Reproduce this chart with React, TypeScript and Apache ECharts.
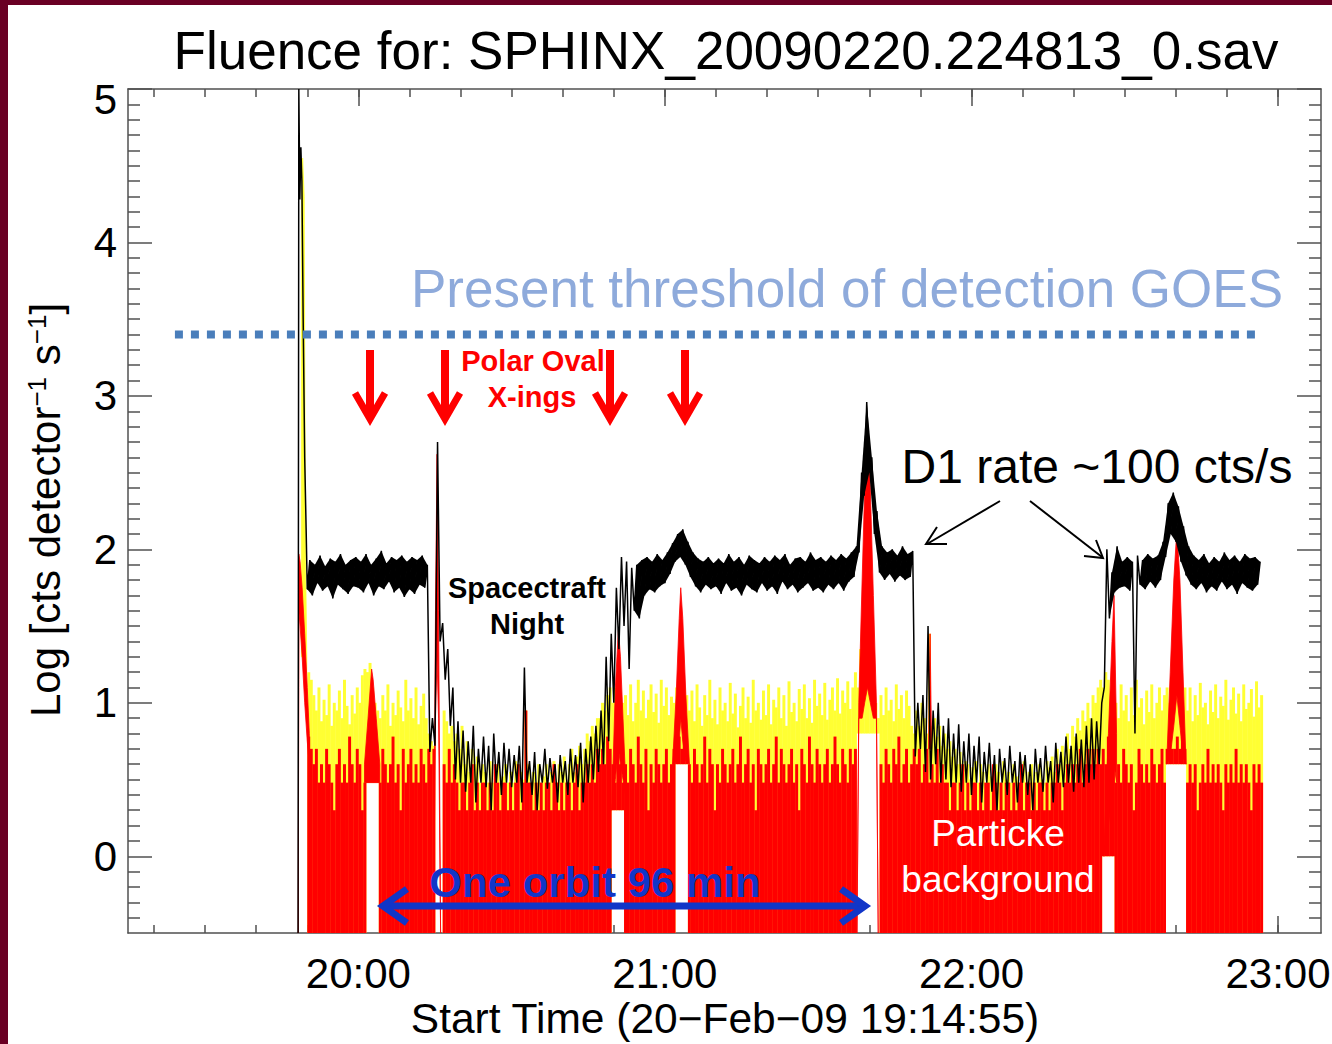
import React, { useEffect, useRef } from 'react';
import * as echarts from 'echarts';

const FONT = '"Liberation Sans", Arial, Helvetica, sans-serif';

// time axis: minutes after 19:00:00 ; start time 19:14:55
const T_START = 14.917;
const T_END = 248.41;
const Y_MIN = -0.5;
const Y_MAX = 5;

const hourTicks = [60, 120, 180, 240];
const hourLabels = ['20:00', '21:00', '22:00', '23:00'];
const tenMinuteTicks = [20, 30, 40, 50, 60, 70, 80, 90, 100, 110, 120, 130, 140, 150, 160, 170, 180, 190, 200, 210, 220, 230, 240];
const yLabels = [0, 1, 2, 3, 4, 5];

// ---- black curve (D1 rate), one low/high pair per minute starting at t = 50 ----
const BLACK_T0 = 50;
const blkSpikeT = [48.2, 48.35, 48.55, 48.75, 48.95, 49.2, 49.5, 49.8];
const blkSpikeV = [-0.5, 5.0, 4.28, 4.62, 4.4, 3.5, 2.6, 2.1];
const blkLo = [
  1.74, 1.70, 1.78, 1.73, 1.76, 1.68, 1.77, 1.74, 1.71, 1.76,
  1.75, 1.72, 1.78, 1.70, 1.76, 1.74, 1.79, 1.72, 1.75, 1.69,
  1.74, 1.71, 1.77, 1.75, 0.68, 0.72, 1.40, 1.15, 0.85, 0.50,
  0.48, 0.42, 0.48, 0.35, 0.48, 0.45, 0.30, 0.48, 0.40, 0.48,
  0.45, 0.48, 0.35, 0.48, 0.40, 0.30, 0.48, 0.44, 0.48, 0.35,
  0.48, 0.40, 0.48, 0.45, 0.35, 0.48, 0.50, 0.55, 0.60, 0.75,
  1.00, 1.35, 1.50, 1.22, 1.60, 1.55, 1.70, 1.74, 1.72, 1.76,
  1.78, 1.84, 1.92, 1.95, 1.90, 1.82, 1.76, 1.72, 1.77, 1.74,
  1.76, 1.71, 1.78, 1.73, 1.75, 1.70, 1.77, 1.74, 1.72, 1.78,
  1.73, 1.76, 1.71, 1.79, 1.74, 1.77, 1.72, 1.75, 1.78, 1.73,
  1.75, 1.72, 1.77, 1.74, 1.78, 1.73, 1.79, 1.82, 1.98, 2.35,
  2.50, 2.10, 1.85, 1.80, 1.84, 1.79, 1.83, 1.80, 1.82, 0.65,
  0.70, 0.55, 0.50, 0.60, 0.48, 0.50, 0.45, 0.48, 0.42, 0.48,
  0.40, 0.48, 0.35, 0.48, 0.42, 0.30, 0.48, 0.40, 0.48, 0.35,
  0.48, 0.40, 0.30, 0.48, 0.42, 0.48, 0.35, 0.48, 0.45, 0.48,
  0.42, 0.48, 0.45, 0.48, 0.50, 0.60, 1.10, 1.55, 1.72, 1.75,
  1.76, 1.73, 0.80, 1.77, 1.74, 1.79, 1.75, 1.80, 1.95, 2.10,
  2.05, 1.92, 1.83, 1.77, 1.74, 1.78, 1.72, 1.76, 1.73, 1.79,
  1.74, 1.77, 1.71, 1.78, 1.75, 1.73, 1.77,
];
const blkHi = [
  1.93, 1.90, 1.96, 1.89, 1.94, 1.92, 1.97, 1.90, 1.93, 1.95,
  1.92, 1.97, 1.90, 1.94, 1.99, 1.91, 1.95, 1.93, 1.96, 1.92,
  1.95, 1.93, 1.96, 1.90, 0.90, 2.70, 1.52, 1.35, 1.10, 0.88,
  0.82, 0.75, 0.85, 0.70, 0.78, 0.72, 0.80, 0.68, 0.74, 0.70,
  0.66, 0.72, 1.23, 0.62, 0.68, 0.60, 0.70, 0.64, 0.60, 0.66,
  0.62, 0.70, 0.66, 0.74, 0.70, 0.78, 0.85, 0.95, 1.30, 1.45,
  1.75, 1.95, 1.92, 1.88, 1.90, 1.93, 1.95, 1.92, 1.97, 1.93,
  1.98, 2.04, 2.10, 2.13, 2.05, 1.98, 1.94, 1.92, 1.95, 1.91,
  1.94, 1.91, 1.97, 1.92, 1.95, 1.90, 1.96, 1.93, 1.91, 1.95,
  1.92, 1.96, 1.93, 1.97, 1.90, 1.94, 1.95, 1.92, 1.98, 1.93,
  1.95, 1.92, 1.96, 1.93, 1.97, 1.94, 1.98, 2.02, 2.50, 2.96,
  2.60, 2.25, 2.02, 1.98, 2.00, 1.96, 2.02, 1.97, 1.99, 1.00,
  1.05, 1.50, 0.95, 1.00, 0.85, 0.90, 0.80, 0.86, 0.75, 0.80,
  0.72, 0.78, 0.68, 0.74, 0.66, 0.70, 0.64, 0.72, 0.62, 0.68,
  0.66, 0.60, 0.70, 0.64, 0.72, 0.62, 0.74, 0.68, 0.78, 0.72,
  0.80, 0.76, 0.85, 0.90, 0.88, 1.00, 2.00, 1.85, 2.02, 1.92,
  1.95, 1.92, 1.96, 1.93, 1.97, 1.94, 1.96, 2.05, 2.30, 2.37,
  2.28, 2.15, 2.02, 1.96, 1.93, 1.97, 1.91, 1.95, 1.92, 1.98,
  1.93, 1.96, 1.92, 1.97, 1.94, 1.95, 1.92,
];

// ---- red and yellow channels, one top value per half minute from t = 50 ----
const BIN_T0 = 50;
const BIN_W = 0.5;
const redTop = [
  0.78, 0.7, 0.6, 0.7, 0.48, 0.6, 0.48, 0.7, 0.6, 0.48, 0.3, 0.6, 0.7, 0.48, 0.6, 0.48, 0.78, 0.6, 0.48, 0.7, 0.6, 0.3, 0.48,
  0.6, 0.7, 0.6, 0.7, 0.6,
  0.48, 0.7, 0.6, 0.48, 0.6, 0.78, 0.48, 0.6, 0.3, 0.7, 0.48, 0.6, 0.7, 0.48, 0.6, 0.48, 0.7, 0.6, 0.48, 0.7, 0.6, 0.7,
  0.6, 0.6, 0.6,
  0.6, 0.48, 0.7, 0.48, 0.6,
  0.48, 0.3, 0.48, 0.48, 0.3, 0.48, 0.6, 0.3, 0.48, 0.3,
  0.48, 0.48, 0.3, 0.48, 0.3, 0.6, 0.48, 0.3, 0.48, 0.48,
  0.3, 0.48, 0.3, 0.48, 0.6, 0.3, 0.48, 0.95, 0.48, 0.48,
  0.3, 0.48, 0.3, 0.48, 0.3, 0.48, 0.48, 0.3, 0.6, 0.48,
  0.3, 0.48, 0.3, 0.48, 0.48, 0.3, 0.48, 0.6, 0.3, 0.48,
  0.48, 0.6, 0.48, 0.6, 0.48, 0.7,
  0.6, 0.7, 0.6, 0.78, 0.7,
  0.6, 0.48, 0.7, 0.6, 0.48,
  0.6, 0.48, 0.7, 0.6, 0.48, 0.78, 0.6, 0.48, 0.7, 0.3, 0.6, 0.48, 0.7, 0.6, 0.48, 0.6, 0.7, 0.48, 0.6, 0.7,
  0.7, 0.78, 0.7, 0.78, 0.7,
  0.6, 0.48, 0.7, 0.6, 0.48, 0.6, 0.78, 0.48, 0.7, 0.6,
  0.3, 0.6, 0.48, 0.7, 0.6, 0.48, 0.6, 0.7, 0.48, 0.6,
  0.78, 0.48, 0.6, 0.7, 0.48, 0.6, 0.3, 0.7, 0.6, 0.48,
  0.6, 0.7, 0.48, 0.6, 0.78, 0.48, 0.7, 0.6, 0.48, 0.6,
  0.7, 0.48, 0.6, 0.3, 0.7, 0.6, 0.48, 0.78, 0.6, 0.48,
  0.7, 0.6, 0.48, 0.6, 0.7, 0.48, 0.6, 0.78, 0.6, 0.48,
  0.7, 0.6, 0.48, 0.7, 0.6, 0.7,
  0.7, 0.7, 0.7, 0.7, 0.7, 0.7, 0.7, 0.7, 0.7,
  0.6, 0.48, 0.7, 0.6, 0.48, 0.7, 0.6, 0.78, 0.48, 0.6, 0.7, 0.48, 0.6, 0.7,
  0.6, 0.7, 0.48, 0.6, 0.7, 0.48, 0.6, 0.48, 0.7, 0.48, 0.6, 0.48,
  0.48, 0.3, 0.48, 0.48, 0.3, 0.48, 0.6, 0.3, 0.48, 0.3,
  0.48, 0.48, 0.3, 0.48, 0.3, 0.48, 0.48, 0.3, 0.6, 0.48,
  0.3, 0.48, 0.3, 0.48, 0.48, 0.3, 0.48, 0.3, 0.48, 0.6,
  0.3, 0.48, 0.48, 0.3, 0.48, 0.3, 0.48, 0.48, 0.3, 0.48,
  0.3, 0.48, 0.48, 0.6, 0.48, 0.3, 0.48, 0.6, 0.48, 0.6,
  0.48, 0.6, 0.7, 0.48, 0.6, 0.7, 0.6, 0.7, 0.6, 0.7, 0.6,
  0.7, 0.6, 0.78, 0.7, 0.6,
  0.48, 0.6, 0.48, 0.7, 0.6, 0.48, 0.6, 0.3, 0.48, 0.7, 0.6, 0.48, 0.6, 0.48, 0.7, 0.6, 0.48, 0.6, 0.7, 0.48,
  0.7, 0.78, 0.7, 0.7, 0.78, 0.7, 0.78, 0.7,
  0.48, 0.6, 0.48, 0.6, 0.3, 0.48, 0.6, 0.48, 0.7, 0.48,
  0.6, 0.48, 0.6, 0.48, 0.3, 0.6, 0.48, 0.6, 0.48, 0.7,
  0.48, 0.6, 0.48, 0.6, 0.48, 0.3, 0.6, 0.48, 0.6, 0.48,
];
const yellowTop = [
  1.2, 1.15, 1.05, 0.95, 1.1, 0.88, 1.02, 0.92, 1.12, 0.85, 1.0, 0.95, 1.08, 0.9, 1.15, 0.98, 0.86, 1.05, 0.93, 1.1, 1.0, 1.18, 1.22,
  1.2, 1.26, 1.1, 1.0, 0.95,
  0.9, 1.05, 0.95, 1.12, 0.85, 1.0, 0.92, 1.08, 0.97, 0.88, 1.15, 0.95, 1.03, 0.9, 1.1, 0.86, 0.98, 1.06, 0.9, 0.8, 0.75, 0.72,
  1.3, 1.2, 1.0,
  0.95, 0.88, 0.8, 0.85, 0.75,
  0.8, 0.7, 0.85, 0.6, 0.75, 0.55, 0.7, 0.6, 0.65, 0.48,
  0.6, 0.55, 0.48, 0.62, 0.48, 0.55, 0.6, 0.48, 0.52, 0.6,
  0.48, 0.55, 0.48, 0.62, 0.48, 0.55, 0.5, 0.95, 0.6, 0.48,
  0.55, 0.48, 0.6, 0.48, 0.52, 0.6, 0.48, 0.55, 0.62, 0.48,
  0.6, 0.55, 0.65, 0.48, 0.6, 0.7, 0.55, 0.65, 0.72, 0.6,
  0.7, 0.8, 0.75, 0.85, 0.8, 0.9,
  0.9, 1.0, 0.95, 1.05, 1.1,
  1.0, 1.1, 1.2, 0.95, 1.0,
  1.05, 0.92, 1.12, 0.88, 1.0, 1.15, 0.95, 1.08, 0.9, 1.02, 1.12, 0.94, 1.06, 0.87, 1.15, 0.98, 1.1, 0.92, 1.04, 1.0,
  1.1, 1.15, 1.2, 1.1, 1.05,
  0.95, 1.08, 0.88, 1.12, 0.97, 0.85, 1.05, 0.92, 1.15, 0.9,
  1.02, 0.86, 1.1, 0.95, 1.0, 0.88, 1.13, 0.93, 1.06, 0.84,
  0.98, 1.1, 0.9, 1.04, 0.87, 1.15, 0.95, 1.0, 0.89, 1.08,
  0.92, 1.12, 0.86, 1.02, 0.97, 1.1, 0.9, 1.05, 0.85, 1.14,
  0.94, 1.0, 0.88, 1.09, 0.96, 1.12, 0.9, 1.03, 0.87, 1.15,
  0.98, 1.06, 0.92, 1.13, 0.89, 1.02, 1.1, 0.95, 1.16, 0.93,
  1.08, 1.0, 1.14, 0.96, 1.1, 1.2,
  1.1, 1.35, 1.5, 1.55, 1.45, 1.35, 1.2, 1.0, 0.9,
  1.05, 0.92, 1.1, 0.95, 1.02, 0.88, 1.12, 0.96, 1.05, 0.9, 1.08, 0.98, 0.85, 0.8,
  0.95, 0.85, 1.0, 0.9, 0.8, 1.45, 0.85, 0.9, 0.78, 0.85, 0.72, 0.8,
  0.7, 0.75, 0.65, 0.7, 0.6, 0.68, 0.55, 0.62, 0.6, 0.5,
  0.58, 0.62, 0.48, 0.6, 0.55, 0.48, 0.6, 0.52, 0.48, 0.6,
  0.55, 0.48, 0.62, 0.5, 0.55, 0.48, 0.6, 0.52, 0.48, 0.58,
  0.62, 0.48, 0.55, 0.6, 0.48, 0.55, 0.6, 0.5, 0.48, 0.62,
  0.58, 0.65, 0.55, 0.7, 0.6, 0.72, 0.65, 0.8, 0.7, 0.85,
  0.78, 0.9, 0.82, 0.95, 0.88, 1.0, 0.9, 1.05, 1.0, 1.1, 1.15,
  1.1, 1.2, 1.15, 1.05, 1.1,
  1.0, 0.9, 1.12, 0.95, 1.05, 0.88, 1.1, 0.92, 1.15, 0.97, 1.03, 0.86, 1.08, 0.94, 1.12, 0.9, 1.0, 1.1, 0.95, 1.05,
  1.1, 1.0, 0.9, 1.05, 1.1, 0.95, 1.0, 1.1,
  0.95, 1.1, 0.88, 1.05, 0.92, 1.13, 0.97, 1.0, 0.86, 1.08,
  0.94, 1.12, 0.9, 1.04, 0.98, 1.15, 0.89, 1.02, 1.1, 0.93,
  1.06, 0.88, 1.12, 0.96, 1.0, 1.09, 0.91, 1.14, 0.97, 1.05,
];

// intervals where the count rate never falls to zero (white below the floor)
const gapStart = [61.5, 75.0, 109.5, 122.0, 157.5, 205.5, 218.0];
const gapEnd = [64.0, 76.5, 112.0, 124.5, 162.0, 208.0, 222.0];
const redGapFloor = [0.48, 1.2, 0.3, 0.6, 0.8, 0.0, 0.6];
const yellowGapFloor = [0.48, 1.6, 0.3, 0.6, 0.8, 0.0, 0.6];

// red peaks (polar oval crossings / spike), upper and lower envelopes
const redPeakT = [
  [48.25, 48.35, 48.6, 49.0, 49.5, 50.0, 50.4],
  [61.2, 61.9, 62.6, 62.9, 63.5, 64.2],
  [74.7, 75.1, 75.4, 75.7, 76.1],
  [109.6, 110.3, 110.9, 111.3, 111.8, 112.3],
  [121.5, 122.2, 122.8, 123.1, 123.5, 124.1, 124.8],
  [157.6, 157.95, 158.6, 159.1, 159.65, 160.2, 160.8, 161.4, 161.75],
  [171.6, 171.9, 172.2],
  [205.9, 206.8, 207.5, 207.9, 208.4],
  [218.2, 218.9, 219.6, 220.2, 220.8, 221.4, 222.0],
];
const redPeakHi = [
  [-0.5, 1.97, 1.92, 1.75, 1.45, 1.1, 0.8],
  [0.6, 0.9, 1.22, 1.15, 0.9, 0.6],
  [-0.5, 1.6, 2.62, 1.6, -0.5],
  [0.3, 1.1, 1.48, 1.3, 0.9, 0.5],
  [0.6, 1.05, 1.55, 1.75, 1.55, 1.05, 0.6],
  [-0.5, 1.0, 1.8, 2.4, 2.83, 2.4, 1.7, 1.0, -0.5],
  [0.7, 1.45, 0.7],
  [0.0, 0.8, 1.4, 1.7, 0.8],
  [0.6, 1.2, 1.8, 2.13, 1.8, 1.2, 0.6],
];
const redPeakLo = [
  [-0.5, 1.6, 1.5, 1.3, 1.0, 0.75, 0.6],
  [0.48, 0.48, 0.48, 0.48, 0.48, 0.48],
  [-0.5, 0.9, 1.3, 0.9, -0.5],
  [0.3, 0.5, 0.7, 0.6, 0.5, 0.4],
  [0.6, 0.62, 0.75, 0.9, 0.75, 0.62, 0.6],
  [-0.5, 0.9, 0.9, 1.0, 1.1, 1.0, 0.9, 0.9, -0.5],
  [0.7, 0.7, 0.7],
  [0.0, 0.2, 0.4, 0.6, 0.48],
  [0.6, 0.65, 0.85, 1.05, 0.85, 0.65, 0.6],
];
const yellowSpikeT = [48.85, 49.1, 49.4, 49.65, 49.9];
const yellowSpikeHi = [4.2, 4.55, 4.3, 2.0, 1.3];
const yellowSpikeLo = [1.3, 1.3, 1.25, 1.2, 1.2];

// GOES detection threshold
const thresholdT = [24.1, 236.05];
const thresholdV = 3.4;

const RED = '#ff0000';
const YELLOW = '#ffff33';
const AXIS = '#505050';
const DAY_LEVEL = 1.5; // black envelope above this is the dense daylight band

function floorAt(t: number, floors: number[]) {
  for (let i = 0; i < gapStart.length; i++) {
    if (t >= gapStart[i] - 1e-6 && t < gapEnd[i] - 1e-6) return floors[i];
  }
  return Y_MIN;
}

function barSeries(tops: number[], floors: number[], color: string, z: number) {
  return {
    type: 'custom',
    z,
    silent: true,
    clip: true,
    data: tops.map((v, k) => {
      const t = BIN_T0 + k * BIN_W;
      return [t, v, floorAt(t, floors)];
    }),
    encode: { x: 0, y: 1 },
    renderItem: (_p: any, api: any) => {
      const t = api.value(0);
      const top = api.value(1);
      const fl = api.value(2);
      if (top <= fl) return null;
      const a = api.coord([t, top]);
      const b = api.coord([t + BIN_W, fl]);
      return {
        type: 'rect',
        shape: { x: a[0], y: a[1], width: b[0] - a[0] + 0.4, height: b[1] - a[1] },
        style: { fill: color },
      };
    },
  };
}

function bandSeries(ts: number[][], his: number[][], los: number[][], color: string, z: number) {
  return {
    type: 'custom',
    z,
    silent: true,
    clip: true,
    data: ts.map((tt, i) => [tt[0], his[i][0], i]),
    encode: { x: 0, y: 1 },
    renderItem: (_p: any, api: any) => {
      const i = api.value(2);
      const tt = ts[i];
      const pts: number[][] = [];
      tt.forEach((t, j) => pts.push(api.coord([t, his[i][j]])));
      for (let j = tt.length - 1; j >= 0; j--) pts.push(api.coord([tt[j], los[i][j]]));
      return {
        type: 'polygon',
        shape: { points: pts },
        style: { fill: color, stroke: color, lineWidth: 0.8 },
      };
    },
  };
}

// dense daylight band of the black curve: filled between consecutive low/high samples
function blackBandSeries(z: number) {
  const data: number[][] = [];
  for (let i = 0; i < blkLo.length - 1; i++) {
    data.push([BLACK_T0 + i, blkLo[i], blkHi[i], blkLo[i + 1], blkHi[i + 1]]);
  }
  return {
    type: 'custom',
    z,
    silent: true,
    clip: true,
    data,
    encode: { x: 0, y: 1 },
    renderItem: (_p: any, api: any) => {
      const t = api.value(0);
      const lo0 = api.value(1), hi0 = api.value(2), lo1 = api.value(3), hi1 = api.value(4);
      if (lo0 < DAY_LEVEL || lo1 < DAY_LEVEL) return null;
      const pts = [
        api.coord([t, lo0]),
        api.coord([t + 0.5, hi0]),
        api.coord([t + 1.5, hi1]),
        api.coord([t + 1, lo1]),
      ];
      return { type: 'polygon', shape: { points: pts }, style: { fill: '#000' } };
    },
  };
}

function buildOption() {
  const blackData: number[][] = [];
  blkSpikeT.forEach((t, i) => blackData.push([t, blkSpikeV[i]]));
  blkLo.forEach((lo, i) => {
    const t = BLACK_T0 + i;
    blackData.push([t, lo]);
    blackData.push([t + 0.5, blkHi[i]]);
  });

  const yMinor: number[] = [];
  for (let i = -4; i <= 49; i++) if (i % 10 !== 0) yMinor.push(i / 10);

  const line = { color: AXIS, width: 1.5 };
  const xBase = { type: 'value', min: T_START, max: T_END, splitLine: { show: false } };
  const yBase = { type: 'value', min: Y_MIN, max: Y_MAX, splitLine: { show: false } };

  const xAxis = [
    {
      ...xBase, position: 'bottom',
      axisLine: { show: true, onZero: false, lineStyle: line },
      axisTick: { show: true, inside: true, length: 17, customValues: hourTicks, lineStyle: line },
      axisLabel: {
        show: true, customValues: hourTicks, margin: 19, fontSize: 42, color: '#000', fontFamily: FONT,
        formatter: (v: number) => hourLabels[hourTicks.indexOf(Math.round(v))] || '',
      },
    },
    {
      ...xBase, position: 'bottom',
      axisLine: { show: false, onZero: false },
      axisTick: { show: true, inside: true, length: 8, customValues: tenMinuteTicks, lineStyle: line },
      axisLabel: { show: false },
    },
    {
      ...xBase, position: 'top',
      axisLine: { show: true, onZero: false, lineStyle: line },
      axisTick: { show: true, inside: true, length: 17, customValues: hourTicks, lineStyle: line },
      axisLabel: { show: false },
    },
    {
      ...xBase, position: 'top',
      axisLine: { show: false, onZero: false },
      axisTick: { show: true, inside: true, length: 8, customValues: tenMinuteTicks, lineStyle: line },
      axisLabel: { show: false },
    },
  ];
  const yAxis = [
    {
      ...yBase, position: 'left',
      axisLine: { show: true, onZero: false, lineStyle: line },
      axisTick: { show: true, inside: true, length: 24, customValues: yLabels, lineStyle: line },
      axisLabel: {
        show: true, customValues: yLabels, margin: 11, fontSize: 42, color: '#000', fontFamily: FONT,
        formatter: (v: number) => (Math.round(v) === 5 ? '{top|5}' : String(Math.round(v))),
        rich: { top: { fontSize: 42, fontFamily: FONT, color: '#000', padding: [20, 0, 0, 0] } },
      },
    },
    {
      ...yBase, position: 'left',
      axisLine: { show: false, onZero: false },
      axisTick: { show: true, inside: true, length: 12, customValues: yMinor, lineStyle: line },
      axisLabel: { show: false },
    },
    {
      ...yBase, position: 'right',
      axisLine: { show: true, onZero: false, lineStyle: line },
      axisTick: { show: true, inside: true, length: 24, customValues: yLabels, lineStyle: line },
      axisLabel: { show: false },
    },
    {
      ...yBase, position: 'right',
      axisLine: { show: false, onZero: false },
      axisTick: { show: true, inside: true, length: 12, customValues: yMinor, lineStyle: line },
      axisLabel: { show: false },
    },
  ];

  const arrowXs = [370, 445, 610, 685];
  const redArrows: any[] = [];
  arrowXs.forEach((x) => {
    redArrows.push({ type: 'line', z: 100, shape: { x1: x, y1: 350, x2: x, y2: 414 }, style: { stroke: RED, lineWidth: 8 } });
    redArrows.push({
      type: 'polyline', z: 100,
      shape: { points: [[x - 15, 393], [x, 419], [x + 15, 393]] },
      style: { stroke: RED, lineWidth: 7, fill: null, lineJoin: 'miter', lineCap: 'butt' },
    });
  });

  const BLUE = '#1136c8';
  const txt = (text: string, x: number, y: number, size: number, color: string, weight = 'normal') => ({
    type: 'text', z: 100, x, y,
    style: { text, fontSize: size, fontFamily: FONT, fontWeight: weight, fill: color, align: 'center', verticalAlign: 'middle' },
  });

  const graphic = [
    { type: 'rect', z: 200, shape: { x: 0, y: 0, width: 8, height: 1044 }, style: { fill: '#6a0024' } },
    { type: 'rect', z: 200, shape: { x: 0, y: 0, width: 1332, height: 5 }, style: { fill: '#6a0024' } },
    txt('Fluence for: SPHINX_20090220.224813_0.sav', 726, 50, 53, '#000'),
    txt('Start Time (20\u2212Feb\u221209 19:14:55)', 725, 1018, 42.5, '#000'),
    {
      type: 'text', z: 100, x: 45, y: 510, rotation: Math.PI / 2,
      style: {
        text: 'Log [cts detector{sup|\u22121} s{sup|\u22121}]',
        fontSize: 42, fontFamily: FONT, fill: '#000', align: 'center', verticalAlign: 'middle',
        rich: { sup: { fontSize: 26, fontFamily: FONT, fill: '#000', verticalAlign: 'top' } },
      },
    },
    txt('Present threshold of detection GOES', 847, 288, 53, '#8eaadb'),
    ...redArrows,
    txt('Polar Oval', 533, 361, 29, RED, 'bold'),
    txt('X-ings', 532, 397, 29, RED, 'bold'),
    txt('Spacectraft', 527, 588, 29, '#000', 'bold'),
    txt('Night', 527, 624, 29, '#000', 'bold'),
    txt('D1 rate ~100 cts/s', 1097, 466, 48, '#000'),
    { type: 'line', z: 100, shape: { x1: 1000, y1: 501, x2: 927, y2: 544 }, style: { stroke: '#000', lineWidth: 2 } },
    { type: 'polyline', z: 100, shape: { points: [[937, 527], [926, 544], [947, 544]] }, style: { stroke: '#000', lineWidth: 2, fill: null } },
    { type: 'line', z: 100, shape: { x1: 1030, y1: 501, x2: 1102, y2: 557 }, style: { stroke: '#000', lineWidth: 2 } },
    { type: 'polyline', z: 100, shape: { points: [[1096, 540], [1103, 558], [1084, 556]] }, style: { stroke: '#000', lineWidth: 2, fill: null } },
    { type: 'line', z: 100, shape: { x1: 386, y1: 906, x2: 862, y2: 906 }, style: { stroke: BLUE, lineWidth: 7 } },
    {
      type: 'polyline', z: 100, shape: { points: [[407, 889], [383, 906], [407, 923]] },
      style: { stroke: BLUE, lineWidth: 7, fill: null, lineJoin: 'miter' },
    },
    {
      type: 'polyline', z: 100, shape: { points: [[841, 889], [865, 906], [841, 923]] },
      style: { stroke: BLUE, lineWidth: 7, fill: null, lineJoin: 'miter' },
    },
    txt('One orbit 96 min', 595, 882, 42, BLUE, 'bold'),
    txt('Particke', 998, 833, 37, '#fff'),
    txt('background', 998, 879, 37, '#fff'),
  ];

  return {
    animation: false,
    backgroundColor: '#fff',
    grid: { left: 128, right: 11, top: 89, bottom: 111, containLabel: false, outerBoundsMode: 'none' },
    xAxis,
    yAxis,
    series: [
      barSeries(yellowTop, yellowGapFloor, YELLOW, 2),
      bandSeries([yellowSpikeT], [yellowSpikeHi], [yellowSpikeLo], YELLOW, 2),
      barSeries(redTop, redGapFloor, RED, 3),
      bandSeries(redPeakT, redPeakHi, redPeakLo, RED, 4),
      blackBandSeries(5),
      {
        type: 'line', z: 5, silent: true, clip: true, showSymbol: false, symbol: 'none',
        data: blackData, lineStyle: { color: '#000', width: 1.5 },
      },
      {
        type: 'line', z: 6, silent: true, showSymbol: false, symbol: 'none',
        data: thresholdT.map((t) => [t, thresholdV]),
        lineStyle: { color: '#4a7ebb', width: 8, type: [8, 8], cap: 'butt' },
      },
    ],
    graphic,
  };
}

export default function App() {
  const ref = useRef<HTMLDivElement>(null);
  useEffect(() => {
    document.body.style.margin = '0';
    const chart = echarts.init(ref.current as HTMLDivElement, null, { renderer: 'svg' });
    chart.setOption(buildOption() as any);
    return () => chart.dispose();
  }, []);
  return <div ref={ref} style={{ width: 1332, height: 1044, background: '#fff' }} />;
}
